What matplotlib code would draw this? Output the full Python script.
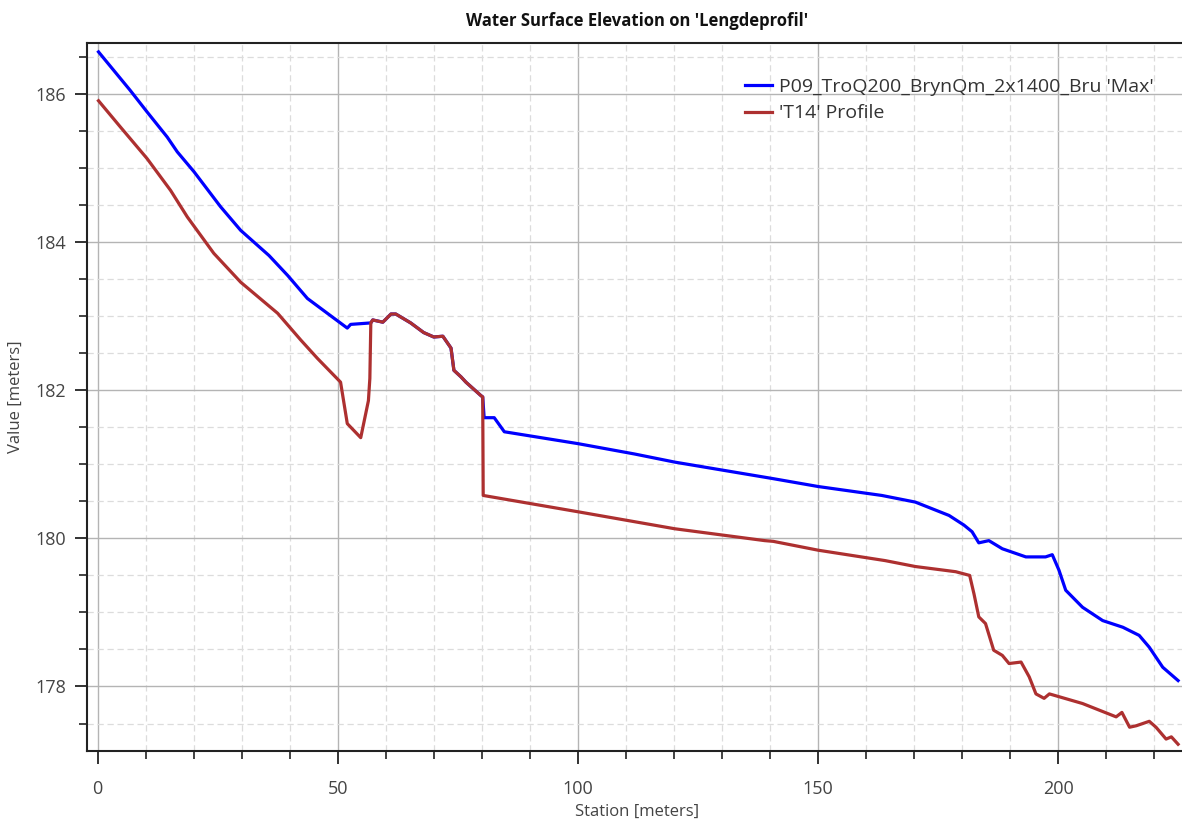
import numpy as np
import matplotlib
matplotlib.use('Agg')
import matplotlib.pyplot as plt
from matplotlib.ticker import MultipleLocator

plt.rcParams['font.family'] = ['Open Sans', 'DejaVu Sans']

# Max water surface (blue)
max_station = [0.2, 6.8, 10.3, 14.5, 16.6, 20.1, 25.6, 29.8, 35.7, 39.6, 43.7, 49.3,
               52.0, 52.7, 56.9, 57.3, 59.4, 61.1, 62.1, 65.2, 67.9, 70.0, 71.9,
               73.6, 74.2, 75.7, 76.7, 79.8, 80.2, 80.5, 82.6, 84.7, 100.0, 111.8,
               120.2, 140.4, 150.1, 163.3, 170.3, 177.3, 180.4, 182.1, 183.5, 185.6,
               188.4, 193.3, 197.4, 198.8, 200.2, 201.6, 205.1, 209.3, 213.5, 216.9,
               219.0, 221.8, 225.0]
max_wse = [186.57, 186.05, 185.76, 185.42, 185.22, 184.95, 184.48, 184.16, 183.82,
           183.55, 183.24, 182.97, 182.84, 182.89, 182.91, 182.95, 182.92, 183.03,
           183.03, 182.91, 182.78, 182.72, 182.73, 182.57, 182.27, 182.18, 182.11,
           181.93, 181.91, 181.63, 181.63, 181.44, 181.28, 181.14, 181.03, 180.81,
           180.70, 180.58, 180.49, 180.31, 180.18, 180.09, 179.94, 179.97, 179.86,
           179.75, 179.75, 179.78, 179.57, 179.30, 179.07, 178.89, 178.80, 178.69,
           178.53, 178.26, 178.08]

# T14 profile (red)
t14_station = [0.2, 4.7, 10.3, 15.2, 18.7, 24.2, 29.8, 37.5, 42.3, 45.8, 50.6, 52.0,
               54.8, 56.4, 56.7, 56.9, 57.3, 59.4, 61.1, 62.1, 65.2, 67.9, 70.0, 71.9,
               73.6, 74.2, 75.7, 76.7, 79.8, 80.2, 80.3, 100.0, 120.2, 138.9, 140.7,
               150.1, 164.0, 170.3, 178.7, 181.6, 182.5, 183.5, 184.9, 186.6, 188.4,
               189.8, 192.3, 194.0, 195.4, 197.1, 198.2, 205.1, 212.1, 213.3, 214.9,
               216.3, 219.0, 220.4, 222.5, 223.6, 225.0]
t14_wse = [185.91, 185.56, 185.13, 184.70, 184.34, 183.85, 183.46, 183.04, 182.68,
           182.43, 182.11, 181.55, 181.36, 181.86, 182.16, 182.91, 182.95, 182.92,
           183.03, 183.03, 182.91, 182.78, 182.72, 182.73, 182.57, 182.27, 182.18,
           182.11, 181.93, 181.91, 180.58, 180.36, 180.13, 179.97, 179.96, 179.84,
           179.70, 179.62, 179.55, 179.50, 179.25, 178.94, 178.85, 178.49, 178.42,
           178.31, 178.33, 178.13, 177.90, 177.84, 177.90, 177.77, 177.59, 177.65,
           177.45, 177.47, 177.53, 177.45, 177.29, 177.32, 177.22]

fig = plt.figure(figsize=(11.82, 8.27), dpi=100)
ax = fig.add_axes([0.0736, 0.092, 0.93, 0.856])

ax.plot(max_station, max_wse, color='#0000ff', lw=2.3,
        label="P09_TroQ200_BrynQm_2x1400_Bru 'Max'")
ax.plot(t14_station, t14_wse, color='#ad3030', lw=2.3, label="'T14' Profile")

ax.set_xlim(-2.2, 226.7)
ax.set_ylim(177.13, 186.69)
ax.xaxis.set_major_locator(MultipleLocator(50))
ax.xaxis.set_minor_locator(MultipleLocator(10))
ax.yaxis.set_major_locator(MultipleLocator(2))
ax.yaxis.set_minor_locator(MultipleLocator(0.5))

ax.grid(which='major', color='#b4b4b4', lw=1.0, ls='-')
ax.grid(which='minor', color='#dcdcdc', lw=0.9, ls=(0, (5, 3)))
ax.set_axisbelow(True)

for s in ['left', 'top', 'bottom']:
    ax.spines[s].set_linewidth(1.5)
    ax.spines[s].set_color('#222222')
ax.spines['right'].set_visible(False)

ax.tick_params(which='major', length=9, width=1.3, color='#222222',
               labelsize=13, labelcolor='#444444', pad=6)
ax.tick_params(which='minor', length=6, width=1.2, color='#222222')
ax.tick_params(axis='x', pad=12)

ax.set_xlabel('Station [meters]', fontsize=12, color='#444444', labelpad=4)
ax.set_ylabel('Value [meters]', fontsize=12, color='#444444', labelpad=8)
ax.set_title("Water Surface Elevation on 'Lengdeprofil'", fontsize=12,
             fontweight='bold', color='#111111', pad=12)

leg = ax.legend(loc='upper right', bbox_to_anchor=(0.977, 0.962), frameon=False,
                fontsize=14, handlelength=1.35, handletextpad=0.36,
                labelspacing=0.45, borderaxespad=0)
for t in leg.get_texts():
    t.set_color('#333333')

fig.savefig('out.png', dpi=100)
